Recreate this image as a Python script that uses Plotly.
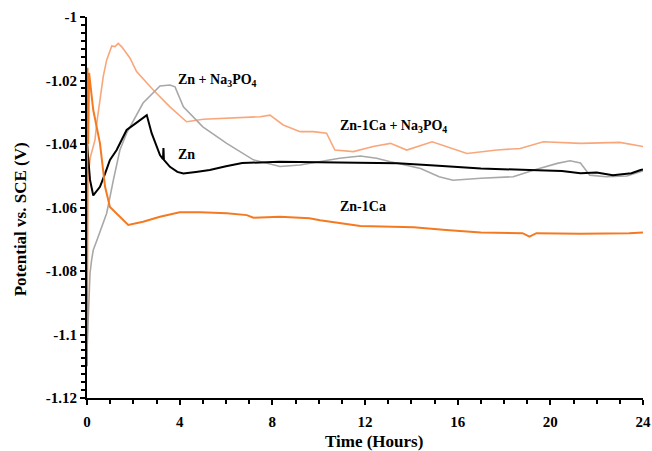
import plotly.graph_objects as go

# Zn
zn_t = [0, 0.13, 0.27, 0.56, 0.78, 0.99, 1.28, 1.71, 2.1, 2.58, 2.79, 3.0, 3.15, 3.28, 3.30, 3.32, 3.58, 3.9, 4.16, 4.7, 5.3, 6.0, 6.7, 8.3, 9.6, 11.0, 13.4, 15.0, 17.0, 19.1, 20.5, 21.3, 22.0, 22.7, 23.5, 23.9, 24.0]
zn_v = [-1.0397, -1.0513, -1.0562, -1.0535, -1.0493, -1.045, -1.0419, -1.0356, -1.0335, -1.0309, -1.0366, -1.0405, -1.0435, -1.0448, -1.0413, -1.0450, -1.0472, -1.0488, -1.0493, -1.0488, -1.0482, -1.0470, -1.0460, -1.0456, -1.0457, -1.0458, -1.0461, -1.0468, -1.0477, -1.0482, -1.0485, -1.0492, -1.0490, -1.0498, -1.0492, -1.0482, -1.0480]

# Zn + Na3PO4
znp_t = [0, 0.06, 0.13, 0.2, 0.27, 0.42, 0.7, 0.85, 1.14, 1.42, 1.71, 2.42, 3.15, 3.58, 3.8, 4.16, 5.0, 6.03, 7.18, 8.33, 9.2, 10.0, 10.9, 11.8, 12.5, 13.1, 14.4, 15.2, 15.8, 17.0, 18.4, 19.3, 20.3, 20.85, 21.3, 21.7, 22.4, 23.3, 23.95, 24.0]
znp_v = [-1.1050, -1.0913, -1.0807, -1.0765, -1.0734, -1.0705, -1.0650, -1.0618, -1.0513, -1.0419, -1.0366, -1.0271, -1.0217, -1.0214, -1.0220, -1.0283, -1.0346, -1.0398, -1.0450, -1.0471, -1.0466, -1.0455, -1.0445, -1.0438, -1.0445, -1.0456, -1.0477, -1.0503, -1.0514, -1.0508, -1.0503, -1.0482, -1.0461, -1.0453, -1.0460, -1.0498, -1.0503, -1.0501, -1.0487, -1.0485]

# Zn-1Ca
ca_t = [0, 0.02, 0.05, 0.09, 0.27, 0.56, 0.78, 0.99, 1.42, 1.78, 2.42, 3.15, 4.0, 4.9, 6.03, 6.9, 7.18, 8.33, 9.6, 10.06, 11.8, 14.1, 15.5, 17.0, 18.8, 19.1, 19.4, 21.3, 23.4, 24.0]
ca_v = [-1.1100, -1.0160, -1.0400, -1.0176, -1.0293, -1.0398, -1.0535, -1.0598, -1.0629, -1.0655, -1.0645, -1.0629, -1.0615, -1.0615, -1.0618, -1.0624, -1.0632, -1.0629, -1.0634, -1.0640, -1.0658, -1.0662, -1.0671, -1.0679, -1.0681, -1.0692, -1.0681, -1.0683, -1.0681, -1.0679]

# Zn-1Ca + Na3PO4
cap_t = [0, 0.04, 0.15, 0.345, 0.42, 0.56, 0.70, 0.85, 1.07, 1.21, 1.35, 1.5, 1.71, 1.86, 2.14, 2.86, 3.58, 4.3, 5.02, 6.3, 7.47, 7.9, 8.47, 9.2, 9.77, 10.34, 10.7, 11.5, 12.35, 13.1, 13.8, 14.9, 15.8, 16.4, 17.7, 18.7, 19.7, 21.3, 23.0, 24.0]
cap_v = [-1.1000, -1.0500, -1.0440, -1.0387, -1.0335, -1.0261, -1.0188, -1.0135, -1.0091, -1.0093, -1.0083, -1.0094, -1.0114, -1.0130, -1.0172, -1.0230, -1.0283, -1.0330, -1.0322, -1.0319, -1.0314, -1.0309, -1.0340, -1.0361, -1.0361, -1.0366, -1.0419, -1.0424, -1.0408, -1.0398, -1.0419, -1.0393, -1.0414, -1.0430, -1.0419, -1.0414, -1.0393, -1.0398, -1.0395, -1.0408]

x_ticks = [0, 4, 8, 12, 16, 20, 24]
y_ticks = [-1.0, -1.02, -1.04, -1.06, -1.08, -1.1, -1.12]
y_tick_text = ["-1", "-1.02", "-1.04", "-1.06", "-1.08", "-1.1", "-1.12"]

FONT = "Liberation Serif"

fig = go.Figure()
fig.add_trace(go.Scatter(x=cap_t, y=cap_v, mode="lines", line=dict(color="#F9A77A", width=1.6), name="Zn-1Ca + Na3PO4"))
fig.add_trace(go.Scatter(x=znp_t, y=znp_v, mode="lines", line=dict(color="#A8A8A8", width=1.6), name="Zn + Na3PO4"))
fig.add_trace(go.Scatter(x=zn_t, y=zn_v, mode="lines", line=dict(color="#000000", width=2), name="Zn"))
fig.add_trace(go.Scatter(x=ca_t, y=ca_v, mode="lines", line=dict(color="#F47A22", width=2), name="Zn-1Ca"))

labels = [
    ("Zn + Na<sub>3</sub>PO<sub>4</sub>", 3.83, -1.0200),
    ("Zn", 3.83, -1.0434),
    ("Zn-1Ca + Na<sub>3</sub>PO<sub>4</sub>", 10.82, -1.0345),
    ("Zn-1Ca", 10.82, -1.0598),
]
for txt, xx, yy in labels:
    fig.add_annotation(x=xx, y=yy, text=txt, showarrow=False, xanchor="left", yanchor="middle",
                       font=dict(family=FONT, size=14, color="black", weight="bold"))

# axis titles
fig.add_annotation(xref="paper", yref="paper", x=0.516, y=-0.1147, text="Time (Hours)", showarrow=False,
                   xanchor="center", yanchor="middle", font=dict(family=FONT, size=17, color="black", weight="bold"))
fig.add_annotation(xref="paper", yref="paper", x=-0.118, y=0.47, text="Potential vs. SCE (V)", showarrow=False,
                   textangle=-90, xanchor="center", yanchor="middle", font=dict(family=FONT, size=17, color="black", weight="bold"))

fig.update_layout(
    width=652, height=451, autosize=False,
    margin=dict(l=87, r=9, t=17, b=53),
    paper_bgcolor="white", plot_bgcolor="white",
    showlegend=False,
    font=dict(family=FONT, color="black"),
)
fig.update_xaxes(
    range=[0, 24], tickvals=x_ticks, ticks="outside", ticklen=5, tickwidth=2, tickcolor="black",
    showline=True, linecolor="black", linewidth=2, showgrid=False, zeroline=False, automargin=False,
    minor=dict(dtick=1, ticks="outside", ticklen=4, tickwidth=1.5, tickcolor="black", showgrid=False),
    tickfont=dict(family=FONT, size=15, weight="bold"), ticklabelstandoff=4,
)
fig.update_yaxes(
    range=[-1.12, -1.0], tickvals=y_ticks, ticktext=y_tick_text, ticks="outside", ticklen=5, tickwidth=2, tickcolor="black",
    showline=True, linecolor="black", linewidth=2, showgrid=False, zeroline=False, automargin=False,
    minor=dict(dtick=0.0025, ticks="outside", ticklen=4, tickwidth=1.5, tickcolor="black", showgrid=False),
    tickfont=dict(family=FONT, size=15, weight="bold"),
)

fig.write_html("out.html")
